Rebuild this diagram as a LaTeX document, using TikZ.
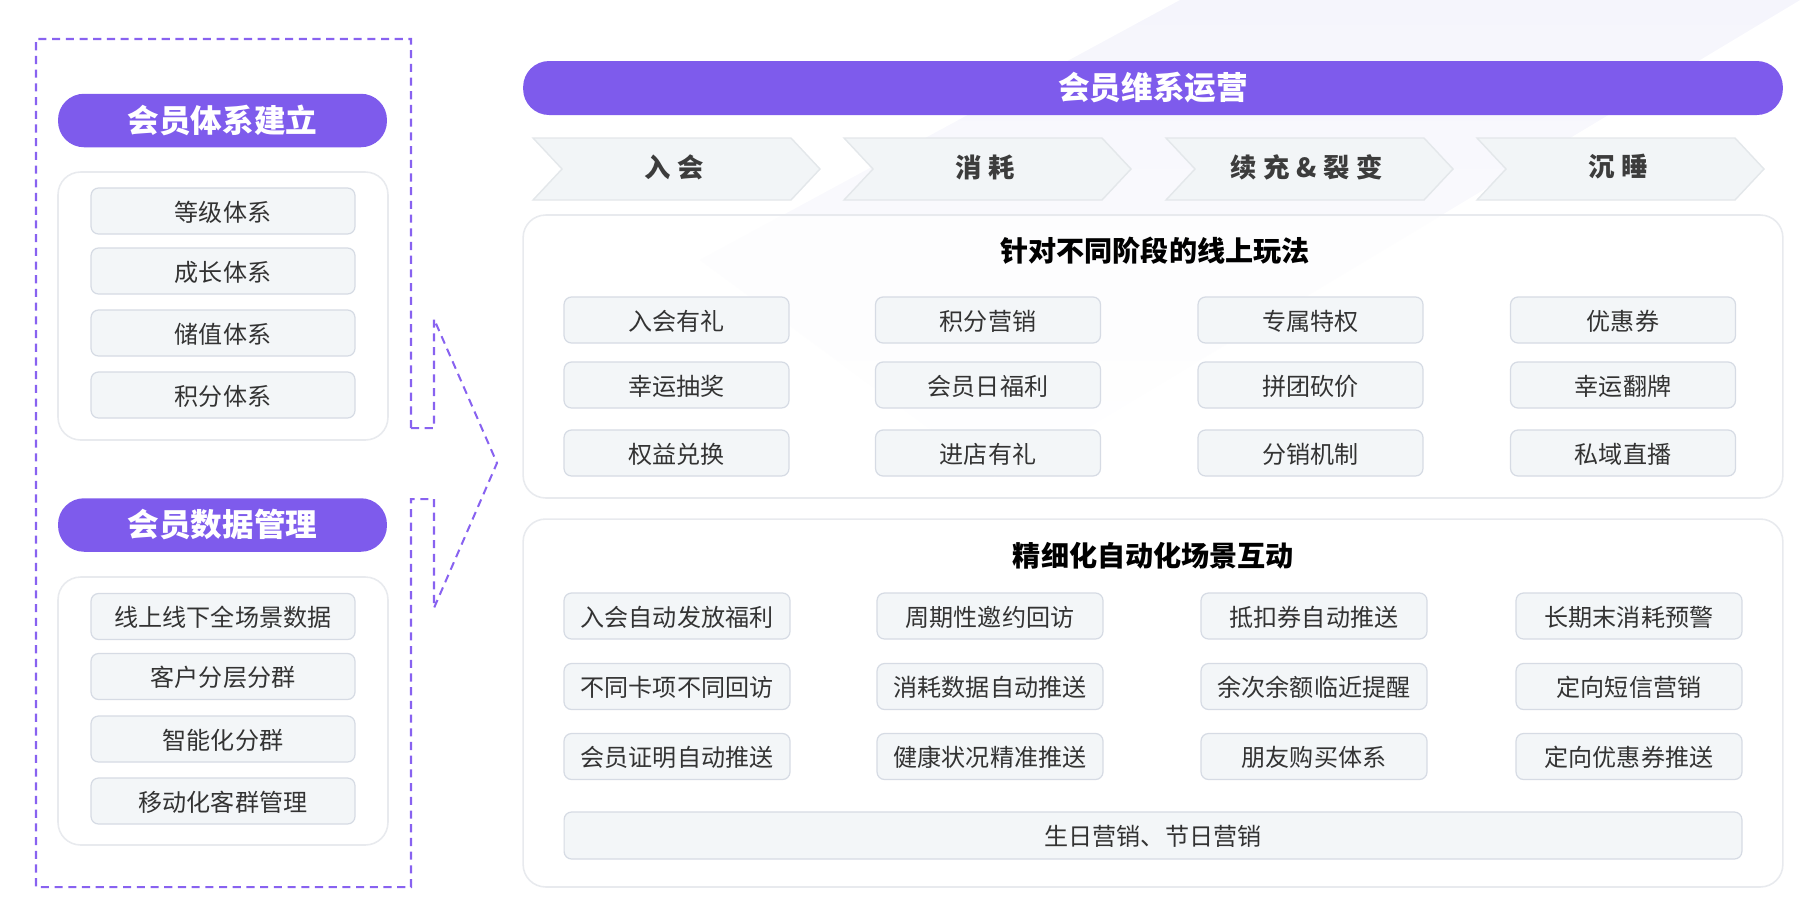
\documentclass[tikz,border=0pt]{standalone}
\usepackage{fontspec}
\setmainfont{Noto Sans CJK SC}
\usepackage{xcolor}
\usepackage{tikz}
\usetikzlibrary{positioning,calc}
\definecolor{vipurple}{HTML}{7E5BEC}
\definecolor{dashpurple}{HTML}{8862F0}
\definecolor{cardfill}{HTML}{F3F6F8}
\definecolor{carddraw}{HTML}{D6DBE4}
\definecolor{panelline}{HTML}{E8EAEE}
\definecolor{chevfill}{HTML}{F2F5F7}
\definecolor{chevline}{HTML}{E3E7EA}
\definecolor{ink}{HTML}{333333}
\definecolor{ink2}{HTML}{3C3C3C}
\definecolor{bandlav}{HTML}{F5F5FC}

\begin{document}
\begin{tikzpicture}[
  x=0.02cm, y=-0.02cm,
  pill/.style={fill=vipurple, text=white, rounded corners=0.52cm,
               minimum height=1.07cm, inner sep=0pt,
               font=\fontsize{18pt}{20pt}\selectfont\bfseries},
  panel/.style={draw=panelline, line width=0.9pt, fill=white, fill opacity=0.6,
                rounded corners=0.45cm, inner sep=0pt},
  card/.style={draw=carddraw, line width=0.7pt, fill=cardfill, rounded corners=0.15cm,
               minimum height=0.92cm, inner sep=0pt, text=ink,
               text height=1.15em, text depth=0em,
               font=\fontsize{13.7pt}{15pt}\selectfont},
  chev/.style={draw=chevline, line width=0.8pt, fill=chevfill},
  stage/.style={text=ink2, inner sep=0pt,
                font=\fontsize{15pt}{17pt}\selectfont\bfseries\addfontfeature{LetterSpace=25}},
  heading/.style={text=black, inner sep=0pt,
                  font=\fontsize{16pt}{18pt}\selectfont\bfseries},
  link/.style={draw=dashpurple, line width=1.15pt, dash pattern=on 4.6pt off 3.2pt}
]
% ==== canvas: 1 unit = 1px of the 1820 x 921 sheet, y runs downwards
\useasboundingbox (0,0) rectangle (1820,921);

% ==== faint diagonal band behind the top right
\shade[top color=bandlav, bottom color=white]
  (1180,0) -- (1800,0) -- (1000,480) -- (700,260) -- cycle;

% ==== left column: the two foundations
\node[pill, minimum width=6.58cm] (sysHead) at (222.5,120.5) {会员体系建立};
\node[panel, minimum width=6.6cm, minimum height=5.36cm] (sysBox) at (223,306) {};
\foreach \y/\txt [count=\i] in {211/等级体系, 271/成长体系, 333/储值体系, 395/积分体系} {
  \node[card, minimum width=5.28cm] (sys\i) at (223,\y) {\txt};
}

\node[pill, minimum width=6.58cm] (dataHead) at (222.5,525) {会员数据管理};
\node[panel, minimum width=6.6cm, minimum height=5.36cm] (dataBox) at (223,711) {};
\foreach \y/\txt [count=\i] in {616.5/线上线下全场景数据, 676.5/客户分层分群,
                                 739/智能化分群, 801/移动化客群管理} {
  \node[card, minimum width=5.28cm] (data\i) at (223,\y) {\txt};
}

% ==== dashed frame that folds into the arrow head
\draw[link] (411,428) -- (434,428) -- (434,319) -- (497,463) -- (434,608)
  -- (434,499) -- (411,499) -- (411,887) -- (36,887) -- (36,39) -- (411,39) -- cycle;

% ==== right column: header and the four stages
\node[pill, minimum width=25.2cm, minimum height=1.08cm] (opsHead) at (1153,88) {会员维系运营};
\foreach \l/\txt [count=\i] in {533/入会, 844/消耗, 1166/续充\&裂变, 1477/沉睡} {
  \draw[chev] (\l,138) -- ++(258,0) -- ++(29,31) -- ++(-29,31) -- ++(-258,0)
    -- ++(29,-31) -- cycle;
  \node[stage] (stage\i) at (\l+141,167) {\txt};
}

% ==== online play per stage
\node[panel, minimum width=25.2cm, minimum height=5.66cm] (playBox) at (1153,356.5) {};
\node[heading] (playHead) at (1155,251) {针对不同阶段的线上玩法};
\foreach \y/\r/\ta/\tb/\tc/\td in {
    320/1/入会有礼/积分营销/专属特权/优惠券,
    385/2/幸运抽奖/会员日福利/拼团砍价/幸运翻牌,
    453/3/权益兑换/进店有礼/分销机制/私域直播} {
  \foreach \x/\k/\txt in {676.5/1/\ta, 988/2/\tb, 1310.5/3/\tc, 1623/4/\td} {
    \node[card, minimum width=4.5cm] (play\r\k) at (\x,\y) {\txt};
  }
}

% ==== automated scenes
\node[panel, minimum width=25.2cm, minimum height=7.36cm] (autoBox) at (1153,703) {};
\node[heading] (autoHead) at (1153.5,556) {精细化自动化场景互动};
\foreach \y/\r/\ta/\tb/\tc/\td in {
    616/1/入会自动发放福利/周期性邀约回访/抵扣券自动推送/长期末消耗预警,
    686.5/2/不同卡项不同回访/消耗数据自动推送/余次余额临近提醒/定向短信营销,
    756.5/3/会员证明自动推送/健康状况精准推送/朋友购买体系/定向优惠券推送} {
  \foreach \x/\k/\txt in {677/1/\ta, 990/2/\tb, 1314/3/\tc, 1629/4/\td} {
    \node[card, minimum width=4.52cm] (auto\r\k) at (\x,\y) {\txt};
  }
}
\node[card, minimum width=23.56cm, minimum height=0.94cm] (festival) at (1153,835.5)
     {生日营销、节日营销};

\end{tikzpicture}
\end{document}
